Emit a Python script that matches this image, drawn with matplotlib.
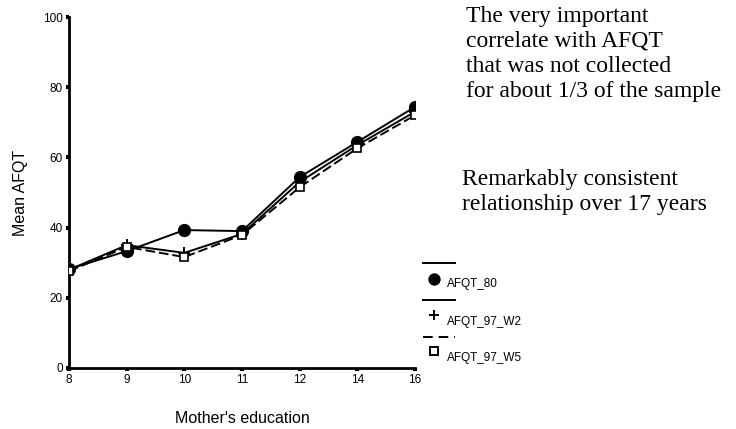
import matplotlib
matplotlib.use("Agg")
import matplotlib.pyplot as plt
from matplotlib.lines import Line2D

categories = ["8", "9", "10", "11", "12", "14", "16"]
afqt_80 = [28.2, 33.3, 39.3, 39.0, 54.4, 64.4, 74.4]
afqt_97_w2 = [28.0, 35.0, 32.8, 38.2, 53.0, 63.5, 73.0]
afqt_97_w5 = [27.6, 34.5, 31.6, 37.9, 51.5, 62.6, 72.0]
yticks = [0, 20, 40, 60, 80, 100]

plt.rcParams['font.family'] = ['Liberation Sans', 'DejaVu Sans']
fig = plt.figure(figsize=(7.36, 4.29), dpi=100)
ax = fig.add_axes([69/736, 1-368/429, (415-69)/736, (368-17)/429])

x = list(range(len(categories)))
ax.plot(x, afqt_80, color='black', lw=1.4, marker='o', ms=8.5, zorder=3)
ax.plot(x, afqt_97_w2, color='black', lw=1.4, marker='+', ms=9, mew=1.4, zorder=3)
ax.plot(x, afqt_97_w5, color='black', lw=1.4, ls=(0, (5, 2)), marker='s', ms=5.5,
        mfc='white', mec='black', mew=1.2, zorder=3)

ax.set_xlim(0, len(categories) - 1)
ax.set_ylim(0, 100)
ax.set_xticks(x)
ax.set_xticklabels(categories)
ax.set_yticks(yticks)
for s in ['top', 'right']:
    ax.spines[s].set_visible(False)
for s in ['left', 'bottom']:
    ax.spines[s].set_linewidth(2)
ax.tick_params(axis='both', direction='out', length=2.5, width=3, labelsize=8.5, pad=2)
ax.set_ylabel("Mean AFQT", fontsize=11.5)
ax.yaxis.set_label_coords(-(69 - 28) / 346, 0.5)
ax.set_xlabel("Mother's education", fontsize=11.5)
ax.xaxis.set_label_coords(0.5, -(411 - 368) / 351)

def fx(px):
    return px / 736
def fy(py):
    return 1 - py / 429

entries = [
    ("AFQT_80", '-', 'o', 'black', 263, 279, 284),
    ("AFQT_97_W2", '-', '+', 'black', 300, 315, 322),
    ("AFQT_97_W5", (0, (5, 3)), 's', 'white', 337, 351, 358),
]
for lab, ls, mk, mfc, yl, ym, yt in entries:
    fig.add_artist(Line2D([fx(423), fx(455)], [fy(yl), fy(yl)], color='black', lw=1.4, ls=ls))
    fig.add_artist(Line2D([fx(434)], [fy(ym)], marker=mk, ms=7.5 if mk != 's' else 5.5,
                          mfc=mfc, mec='black', mew=1.4, color='black', ls='none'))
    fig.text(fx(447), fy(yt), lab, fontsize=8.5, va='center', ha='left')

serif = ['Liberation Serif', 'DejaVu Serif']
fig.text(fx(466), fy(6), "The very important\ncorrelate with AFQT\nthat was not collected\nfor about 1/3 of the sample",
         fontsize=17, family=serif, va='top', ha='left', linespacing=1.24)
fig.text(fx(462), fy(169), "Remarkably consistent\nrelationship over 17 years",
         fontsize=17, family=serif, va='top', ha='left', linespacing=1.26)

fig.savefig("out.png", dpi=100)
